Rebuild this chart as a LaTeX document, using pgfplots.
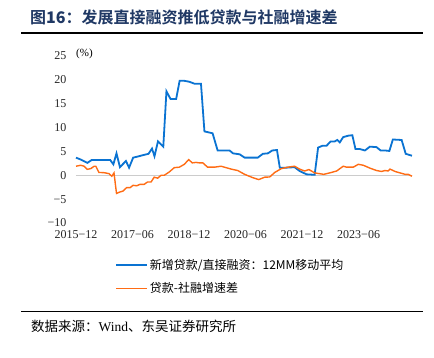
\documentclass[border=0pt]{standalone}
\usepackage{pgfplots}
\pgfplotsset{compat=1.18}
\usepackage{fontspec}
\setmainfont{Liberation Serif}
\newfontfamily\cjk{Noto Sans CJK SC}
\newfontfamily\cjkb{Noto Sans CJK SC Bold}
\definecolor{wblue}{RGB}{10,115,210}
\definecolor{worange}{RGB}{255,108,20}
\definecolor{tnavy}{RGB}{31,56,100}
\pgfplotstableread{
m v
0 3.7
1.5 3.3
3.6 2.6
5 3.2
10.9 3.2
11.9 2.3
12.9 4.6
14 1.7
15.9 3.0
16.9 1.6
18.2 3.7
20.1 4.0
21.2 4.2
23.1 4.5
24.2 5.6
25 4.0
26.1 7.1
27.8 6.0
28.8 17.6
30.1 16.0
31.9 16.0
33 19.8
34.5 19.8
36.1 19.6
37.7 19.2
39.8 19.2
40.9 9.2
43.5 8.8
45.1 5.2
48.9 5.2
50 4.6
52.1 4.4
53.7 3.7
57.9 3.7
59.5 4.5
61.1 4.6
62.5 5.2
64 5.3
64.9 1.6
67 1.6
69.6 1.7
71.2 0.9
73.4 0.2
76 0.1
77.1 5.8
78.5 6.2
79.8 6.2
81.1 7.1
82.4 7.1
83.2 7.4
84 6.9
85.1 8.0
86.7 8.3
88 8.4
89 5.5
90.4 5.5
92 5.2
93.6 6.0
95.7 5.9
97 5.2
98.4 5.2
99.8 5.1
100.9 7.5
103.7 7.4
105 4.5
107 4.1
}\blue
\pgfplotstableread{
m v
0 1.9
1.5 2.1
2.6 1.9
3.6 1.25
4.7 1.4
5.8 1.9
6.3 1.9
7.3 0.6
8.9 0.55
10.5 0.35
11.4 -0.2
12.1 0.5
12.9 -3.8
14 -3.5
15 -3.3
16.1 -2.6
17.2 -2.6
18.2 -2.1
19.3 -2.2
20.4 -1.9
21.7 -1.9
22.8 -1.4
23.9 -1.4
24.9 -0.4
26 -0.6
27.1 0
28.1 0
29.7 0.7
31.3 1.6
32.9 1.7
34.5 2.3
35.9 3.3
37 2.6
38.2 2.7
39.3 2.6
40.4 2.6
41.9 1.7
44.1 1.7
46.2 1.9
47.8 1.6
49.4 1.3
51.5 1.0
53.7 0.2
56.3 -0.5
58.2 -0.9
60.1 -0.4
61.7 -0.35
63.3 0.6
65.4 1.4
67.5 1.7
69.6 1.9
71.2 1.3
72.8 0.9
74.2 1.2
76 0.5
78.9 0.2
80.8 0.5
83 0.9
85.1 1.9
86.2 1.7
88.3 1.7
89.9 2.3
91.5 2.1
93.6 1.5
95.7 1.0
97.3 0.8
98.4 1.0
99.4 0.9
100 1.3
101.6 0.8
103.2 0.5
104.8 0.2
105.8 0.2
107 -0.2
}\orange
\begin{document}
\begin{tikzpicture}[x=1pt,y=1pt]
\path[use as bounding box] (0,0) rectangle (434,357);
% title
\node[anchor=west,text=tnavy,inner sep=0pt] at (30,340) {\fontsize{16}{16}\selectfont\cjkb 图{\bfseries 16}：发展直接融资推低贷款与社融增速差};
\draw[line width=1.3pt] (21,324) -- (423,324);
\draw[line width=1.3pt] (21,45.5) -- (423,45.5);
\node[anchor=west,inner sep=0pt] at (31,31) {\fontsize{13.5}{14}\selectfont\cjk 数据来源：{\rmfamily Wind}、东吴证券研究所};
\begin{axis}[
  at={(76pt,134pt)}, anchor=south west,
  width=336pt, height=167pt, scale only axis,
  xmin=0, xmax=107, ymin=-10, ymax=25,
  axis line style={draw=none},
  tick style={draw=none},
  xtick={0,18,36,54,72,90},
  xticklabels={2015−12,2017−06,2018−12,2020−06,2021−12,2023−06},
  ytick={-10,-5,0,5,10,15,20,25},
  yticklabels={−10,−5,0,5,10,15,20,25},
  ticklabel style={font=\fontsize{12}{12}\selectfont, text=black!85},
  xticklabel style={yshift=-4pt},
  yticklabel style={xshift=-6pt},
  clip=false,
  legend style={at={(0.107,-0.19)}, anchor=north west, draw=none, fill=none,
    font=\fontsize{12}{12}\selectfont\cjk, row sep=8pt,
    /tikz/every even column/.append style={column sep=2pt}},
  legend cell align=left,
  legend image code/.code={\draw[#1] (0pt,0pt) -- (31pt,0pt);},
]
\addplot[black!20, line width=0.8pt, forget plot] coordinates {(0,0) (107,0)};
\addplot[wblue, line width=1.8pt] table[x=m,y=v] {\blue};
\addlegendentry{新增贷款/直接融资：12MM移动平均}
\addplot[worange, line width=1.4pt] table[x=m,y=v] {\orange};
\addlegendentry{贷款-社融增速差}
\node[anchor=center,font=\fontsize{11}{11}\selectfont] at (axis cs:2.7,25.4) {(\%)};
\end{axis}
\end{tikzpicture}
\end{document}
